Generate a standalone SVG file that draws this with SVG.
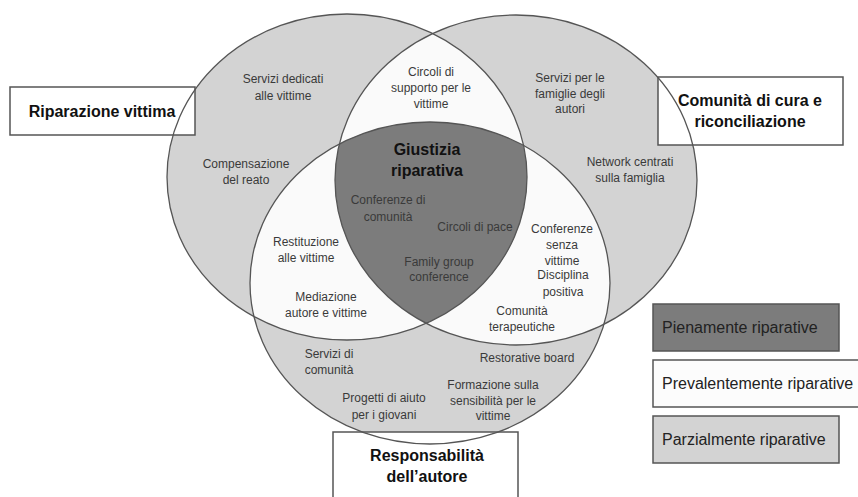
<svg xmlns="http://www.w3.org/2000/svg" width="858" height="497" viewBox="0 0 858 497">
<style>
.t{font-family:"Liberation Sans",Arial,sans-serif;font-size:12px;fill:#3a3a3a;text-anchor:middle}
.b{font-family:"Liberation Sans",Arial,sans-serif;font-size:16px;font-weight:bold;fill:#111;text-anchor:middle}
.lg{font-family:"Liberation Sans",Arial,sans-serif;font-size:16px;fill:#222}
.ring{fill:none;stroke:#555;stroke-width:1.3}
.box{fill:#fff;stroke:#555;stroke-width:1.5}
</style>
<defs>
<ellipse id="eA" cx="347" cy="177" rx="180" ry="163"/>
<ellipse id="eB" cx="516" cy="180" rx="181" ry="165"/>
<ellipse id="eC" cx="430" cy="283" rx="180" ry="161"/>
<clipPath id="cA"><use href="#eA"/></clipPath>
<clipPath id="cB"><use href="#eB"/></clipPath>
</defs>
<rect width="858" height="497" fill="#fff"/>
<g id="fills">
<use href="#eA" fill="#d3d3d3"/>
<use href="#eB" fill="#d3d3d3"/>
<use href="#eC" fill="#d3d3d3"/>
<g clip-path="url(#cA)"><use href="#eB" fill="#fafafa"/><use href="#eC" fill="#fafafa"/></g>
<g clip-path="url(#cB)"><use href="#eC" fill="#fafafa"/></g>
<g clip-path="url(#cA)"><g clip-path="url(#cB)"><use href="#eC" fill="#7c7c7c"/></g></g>
</g>
<g id="box-riparazione"><rect class="box" x="10" y="87" width="185" height="48"/><text class="b" x="102" y="117">Riparazione vittima</text></g>
<g id="box-comunita"><rect class="box" x="658" y="77" width="185" height="68"/><text class="b" x="750" y="106">Comunità di cura e</text><text class="b" x="750" y="127">riconciliazione</text></g>
<g id="box-responsabilita"><rect class="box" x="333" y="432" width="185" height="80"/><text class="b" x="427" y="461">Responsabilità</text><text class="b" x="427" y="482">dell’autore</text></g>
<g id="connectors">
<use href="#eA" class="ring"/>
<use href="#eB" class="ring"/>
<use href="#eC" class="ring"/>
</g>
<g id="labels">
<g id="n-servizi-dedicati"><text class="t" x="283" y="83">Servizi dedicati</text><text class="t" x="283" y="100">alle vittime</text></g>
<g id="n-compensazione"><text class="t" x="246" y="168">Compensazione</text><text class="t" x="246" y="184">del reato</text></g>
<g id="n-circoli-supporto"><text class="t" x="431" y="76">Circoli di</text><text class="t" x="431" y="92">supporto per le</text><text class="t" x="431" y="108">vittime</text></g>
<g id="n-servizi-famiglie"><text class="t" x="570" y="82">Servizi per le</text><text class="t" x="570" y="98">famiglie degli</text><text class="t" x="570" y="113">autori</text></g>
<g id="n-network"><text class="t" x="630" y="166">Network centrati</text><text class="t" x="630" y="182">sulla famiglia</text></g>
<g id="n-giustizia"><text class="b" x="427" y="155">Giustizia</text><text class="b" x="427" y="176">riparativa</text></g>
<g id="n-conferenze-comunita"><text class="t" x="388" y="204">Conferenze di</text><text class="t" x="388" y="221">comunità</text></g>
<g id="n-circoli-pace"><text class="t" x="475" y="231">Circoli di pace</text></g>
<g id="n-family"><text class="t" x="439" y="266">Family group</text><text class="t" x="439" y="281">conference</text></g>
<g id="n-restituzione"><text class="t" x="306" y="246">Restituzione</text><text class="t" x="306" y="262">alle vittime</text></g>
<g id="n-mediazione"><text class="t" x="326" y="301">Mediazione</text><text class="t" x="326" y="317">autore e vittime</text></g>
<g id="n-conferenze-senza"><text class="t" x="562" y="233">Conferenze</text><text class="t" x="562" y="249">senza</text><text class="t" x="562" y="265">vittime</text></g>
<g id="n-disciplina"><text class="t" x="563" y="279">Disciplina</text><text class="t" x="563" y="296">positiva</text></g>
<g id="n-comunita-terapeutiche"><text class="t" x="522" y="315">Comunità</text><text class="t" x="522" y="331">terapeutiche</text></g>
<g id="n-servizi-comunita"><text class="t" x="329" y="358">Servizi di</text><text class="t" x="329" y="374">comunità</text></g>
<g id="n-progetti"><text class="t" x="384" y="402">Progetti di aiuto</text><text class="t" x="384" y="419">per i giovani</text></g>
<g id="n-restorative"><text class="t" x="527" y="362">Restorative board</text></g>
<g id="n-formazione"><text class="t" x="493" y="389">Formazione sulla</text><text class="t" x="493" y="405">sensibilità per le</text><text class="t" x="493" y="420">vittime</text></g>
</g>
<g id="legend">
<g id="leg-pienamente"><rect x="653" y="304" width="186" height="47" fill="#7c7c7c" stroke="#555" stroke-width="1.5"/><text class="lg" x="662" y="333">Pienamente riparative</text></g>
<g id="leg-prevalentemente"><rect x="653" y="360" width="215" height="47" fill="#fcfcfc" stroke="#555" stroke-width="1.5"/><text class="lg" x="662" y="389">Prevalentemente riparative</text></g>
<g id="leg-parzialmente"><rect x="653" y="416" width="186" height="47" fill="#d3d3d3" stroke="#555" stroke-width="1.5"/><text class="lg" x="662" y="445">Parzialmente riparative</text></g>
</g>
</svg>
